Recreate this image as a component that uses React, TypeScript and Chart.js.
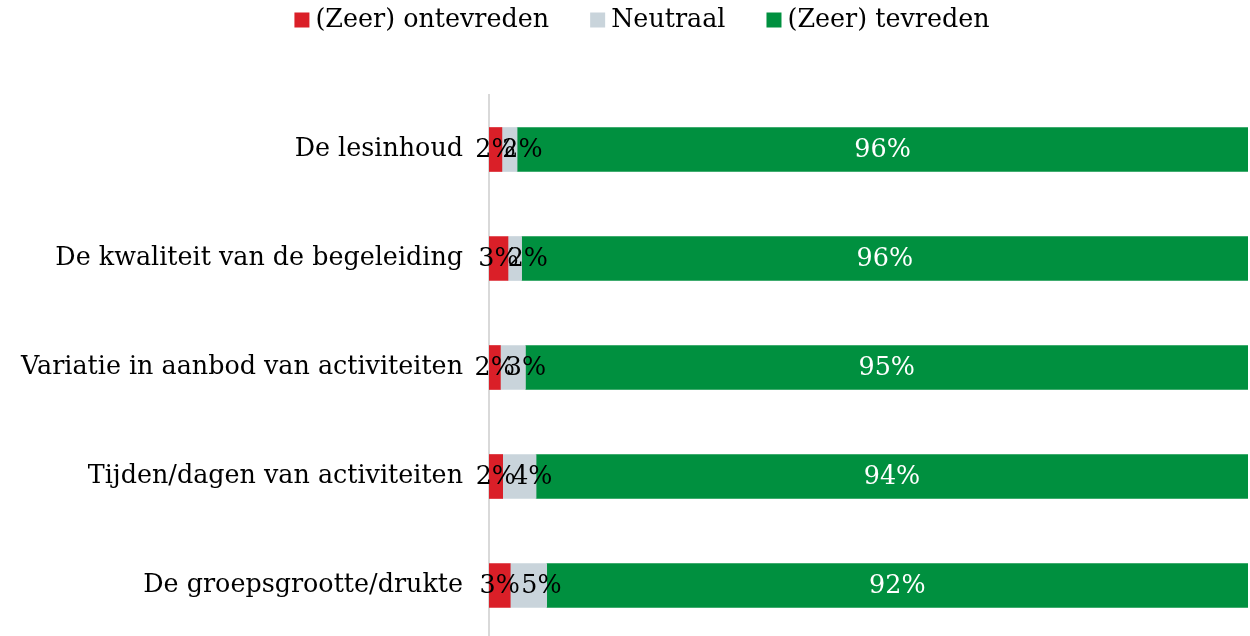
import { useEffect, useRef } from 'react';
import { Chart, registerables } from 'chart.js';

Chart.register(...registerables);

const categories = [
  'De lesinhoud',
  'De kwaliteit van de begeleiding',
  'Variatie in aanbod van activiteiten',
  'Tijden/dagen van activiteiten',
  'De groepsgrootte/drukte',
];
const seriesNames = ['(Zeer) ontevreden', 'Neutraal', '(Zeer) tevreden'];
const dissatisfied = [1.7, 2.5, 1.5, 1.8, 2.8];
const neutral = [2.0, 1.8, 3.3, 4.4, 4.8];
const satisfied = [96.3, 95.7, 95.2, 93.8, 92.4];

const FONT = "'DejaVu Serif', serif";
const FONT_SIZE = 25.4;
const COLORS = ['#DA1F28', '#C9D4DB', '#00903F'];
const LABEL_COLORS = ['#000000', '#000000', '#ffffff'];

export default function App() {
  const ref = useRef<HTMLCanvasElement>(null);

  useEffect(() => {
    document.body.style.margin = '0';
    const canvas = ref.current;
    if (!canvas) return;

    const customLegend = {
      id: 'customLegend',
      afterDraw(chart: any) {
        const ctx = chart.ctx;
        ctx.save();
        ctx.font = `${FONT_SIZE}px ${FONT}`;
        ctx.textBaseline = 'middle';
        ctx.textAlign = 'left';
        const box = 15;
        const gap = 6;
        const itemGap = 41;
        const dss = chart.data.datasets;
        const widths = dss.map((d: any) => box + gap + ctx.measureText(d.label).width);
        const total = widths.reduce((a: number, b: number) => a + b, 0) + itemGap * (dss.length - 1);
        let x = 642 - total / 2;
        const cy = 20;
        dss.forEach((d: any, i: number) => {
          ctx.fillStyle = d.backgroundColor;
          ctx.fillRect(x, cy - box / 2, box, box);
          ctx.fillStyle = '#000';
          ctx.fillText(d.label, x + box + gap, cy);
          x += widths[i] + itemGap;
        });
        ctx.restore();
      },
    };

    const dataLabels = {
      id: 'dataLabels',
      afterDatasetsDraw(chart: any) {
        const ctx = chart.ctx;
        ctx.save();
        ctx.font = `${FONT_SIZE}px ${FONT}`;
        ctx.textBaseline = 'middle';
        ctx.textAlign = 'center';
        const offsets = [0, 13, 0];
        chart.data.datasets.forEach((ds: any, di: number) => {
          const meta = chart.getDatasetMeta(di);
          meta.data.forEach((bar: any, i: number) => {
            const v = ds.data[i];
            const p = bar.getProps(['x', 'y', 'base'], true);
            const cx = (p.x + p.base) / 2 + offsets[di];
            ctx.fillStyle = LABEL_COLORS[di];
            ctx.fillText(Math.round(v) + '%', cx, p.y + 1);
          });
        });
        ctx.restore();
      },
    };

    const chart = new Chart(canvas, {
      type: 'bar',
      data: {
        labels: categories,
        datasets: [
          { label: seriesNames[0], data: dissatisfied, backgroundColor: COLORS[0] },
          { label: seriesNames[1], data: neutral, backgroundColor: COLORS[1] },
          { label: seriesNames[2], data: satisfied, backgroundColor: COLORS[2] },
        ],
      },
      options: {
        indexAxis: 'y',
        animation: false,
        responsive: false,
        maintainAspectRatio: false,
        layout: { padding: { top: 95, right: 2, left: 0, bottom: 0 } },
        datasets: {
          bar: { barThickness: 44, borderWidth: 0 },
        },
        plugins: {
          legend: { display: false },
          tooltip: { enabled: false },
        },
        scales: {
          x: {
            stacked: true,
            min: 0,
            max: 100,
            display: false,
          },
          y: {
            stacked: true,
            grid: { display: false, drawTicks: false },
            border: { display: true, color: '#D9D9D9', width: 2 },
            ticks: {
              autoSkip: false,
              padding: 26,
              color: '#000000',
              font: { family: FONT, size: FONT_SIZE },
            },
            afterFit(scale: any) {
              scale.width = 489;
              scale.paddingTop = 0;
              scale.paddingBottom = 0;
            },
          },
        },
      },
      plugins: [dataLabels, customLegend],
    });

    return () => chart.destroy();
  }, []);

  return (
    <div style={{ width: 1250, height: 636, overflow: 'hidden' }}>
      <canvas ref={ref} width={1250} height={640} style={{ display: 'block' }} />
    </div>
  );
}
